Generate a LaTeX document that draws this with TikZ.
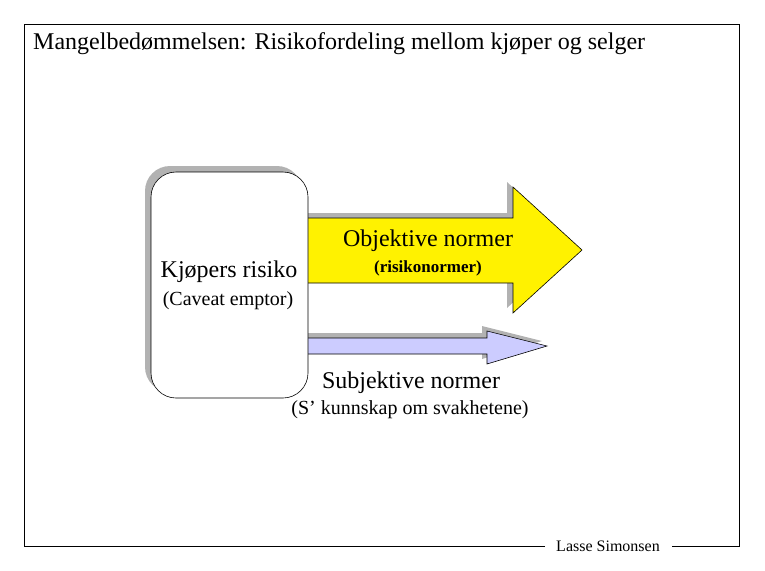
\documentclass[tikz,border=0pt]{standalone}
\usepackage{fontspec}
\setmainfont{Liberation Serif}
\begin{document}
\begin{tikzpicture}[x=1pt,y=-1pt,
  lbl/.style={inner sep=0pt,anchor=center},
  big/.style={lbl,font=\fontsize{24}{28}\selectfont},
  mid/.style={lbl,font=\fontsize{20}{24}\selectfont},
  shadowfill/.style={fill=black!30,draw=none},
  outline/.style={draw=black,line width=0.6pt}]
\useasboundingbox (0,0) rectangle (765,570);
% frame
\coordinate (fa) at (545,546);
\coordinate (fb) at (672,546);
\draw[line width=1pt] (fa) -- (24,546) -- (24,24) -- (739,24) -- (739,546) -- (fb);
\node[lbl,anchor=west,font=\fontsize{24}{28}\selectfont] (title) at (33,44) {Mangelbedømmelsen: Risikofordeling mellom kjøper og selger};
\node[lbl,font=\fontsize{16}{19}\selectfont] (footer) at (608,546) {Lasse Simonsen};
% yellow arrow
\fill[shadowfill,shift={(-6,-5)}] (300,218) -- (513,218) -- (513,187) -- (582,250) -- (513,313) -- (513,283) -- (300,283) -- cycle;
\draw[outline,fill=yellow] (300,218) -- (513,218) -- (513,187) -- (582,250) -- (513,313) -- (513,283) -- (300,283) -- cycle;
% blue arrow
\fill[shadowfill,shift={(-5,-5)}] (300,338) -- (487,338) -- (487,331) -- (547,346) -- (487,364) -- (487,354) -- (300,354) -- cycle;
\draw[outline,fill={rgb,255:red,204;green,204;blue,255}] (300,338) -- (487,338) -- (487,331) -- (547,346) -- (487,364) -- (487,354) -- (300,354) -- cycle;
% box
\fill[shadowfill,rounded corners=25pt] (145,166) rectangle (302,392);
\draw[outline,fill=white,rounded corners=25pt] (151,172) rectangle (308,398);
% texts
\node[big] (kr) at (229,272) {Kjøpers risiko};
\node[mid] (ce) at (228,301) {(Caveat emptor)};
\node[big] (on) at (428,241) {Objektive normer};
\node[lbl,font=\fontsize{17}{20}\selectfont\bfseries] (rn) at (428,268) {(risikonormer)};
\node[big] (sn) at (411,383) {Subjektive normer};
\node[mid] (sk) at (410,410) {(S’ kunnskap om svakhetene)};
\end{tikzpicture}
\end{document}
